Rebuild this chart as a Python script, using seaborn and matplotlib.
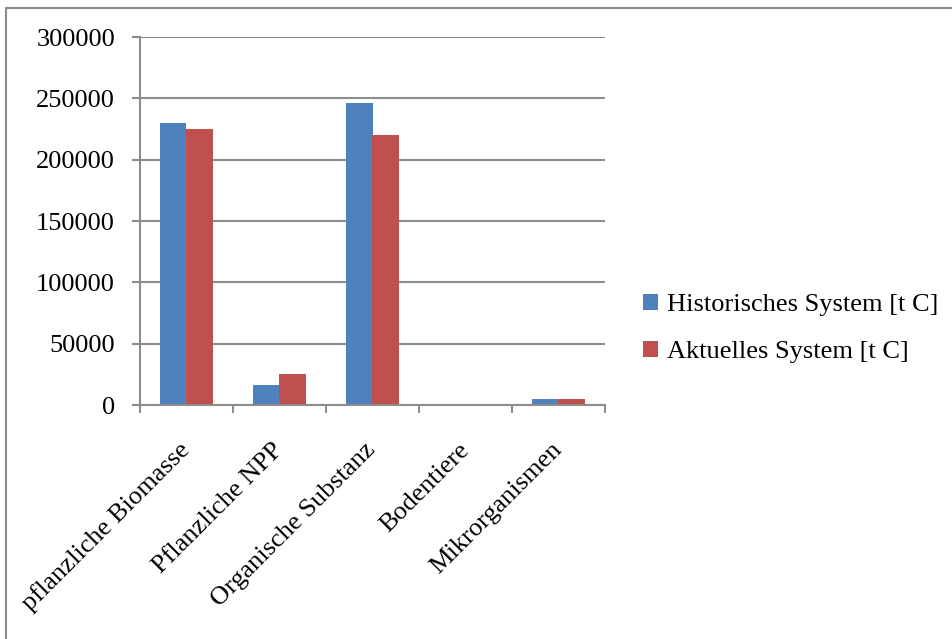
import matplotlib
matplotlib.use("Agg")
import matplotlib.pyplot as plt
from matplotlib.lines import Line2D
from matplotlib.ticker import FixedLocator, NullFormatter
import seaborn as sns
import pandas as pd

categories = ["pflanzliche Biomasse", "Pflanzliche NPP", "Organische Substanz",
              "Bodentiere", "Mikrorganismen"]
historisch = [230000, 16000, 246000, 0, 5000]
aktuell = [225000, 25000, 220000, 0, 5000]
series_names = ["Historisches System [t C]", "Aktuelles System [t C]"]
colors = ["#4F81BD", "#C0504D"]
y_ticks = [0, 50000, 100000, 150000, 200000, 250000, 300000]

df = pd.DataFrame({
    "Kategorie": categories * 2,
    "Wert": historisch + aktuell,
    "Serie": [series_names[0]] * len(categories) + [series_names[1]] * len(categories),
})

sns.set_style("white")
plt.rcParams["font.family"] = ["Liberation Serif", "DejaVu Serif"]
plt.rcParams["text.color"] = "black"

fig = plt.figure(figsize=(9.53, 6.39), dpi=100)
ax = fig.add_axes([140 / 953, 1 - 405 / 639, 465 / 953, 368 / 639])

sns.barplot(data=df, x="Kategorie", y="Wert", hue="Serie", palette=colors,
            width=0.58, saturation=1, ax=ax, legend=True, edgecolor="none")

grid_color = "#8C8C8C"
ax.set_ylim(0, 300000)
ax.set_xlim(-0.5, len(categories) - 0.5)
ax.set_yticks(y_ticks)
ax.set_yticklabels([str(v) for v in y_ticks])
ax.yaxis.grid(True, color=grid_color, linewidth=1.5)
ax.set_axisbelow(True)
ax.set_xlabel("")
ax.set_ylabel("")

for side in ["top", "right"]:
    ax.spines[side].set_visible(False)
for side in ["left", "bottom"]:
    ax.spines[side].set_color(grid_color)
    ax.spines[side].set_linewidth(1.5)

ax.tick_params(axis="y", which="major", direction="out", length=6, width=1.5,
               color=grid_color, left=True, pad=12, labelsize=19, labelcolor="black")
# category boundaries carry the x ticks; labels sit at category centres
ax.xaxis.set_minor_locator(FixedLocator([i - 0.5 for i in range(len(categories) + 1)]))
ax.xaxis.set_minor_formatter(NullFormatter())
ax.tick_params(axis="x", which="minor", direction="out", length=6, width=1.5,
               color=grid_color, bottom=True)
ax.tick_params(axis="x", which="major", length=0, pad=30, labelsize=19,
               labelcolor="black")
for lbl in ax.get_xticklabels():
    lbl.set_rotation(45)
    lbl.set_ha("right")
    lbl.set_va("center")
    lbl.set_rotation_mode("anchor")

handles, labels = ax.get_legend_handles_labels()
leg = ax.legend(handles, labels, loc="center left", bbox_to_anchor=(1.059, 0.208),
                frameon=False, fontsize=19, handlelength=0.55, handleheight=0.55,
                handletextpad=0.35, labelspacing=0.95, borderaxespad=0)
for t in leg.get_texts():
    t.set_color("black")

# outer chart frame (top and left edges)
fig.add_artist(Line2D([6 / 953, 1.0], [1 - 8 / 639, 1 - 8 / 639],
                      transform=fig.transFigure, color="#8C8C8C", linewidth=1.5))
fig.add_artist(Line2D([6 / 953, 6 / 953], [0.0, 1 - 8 / 639],
                      transform=fig.transFigure, color="#8C8C8C", linewidth=1.5))

fig.savefig("out.png", dpi=100, facecolor="white")
